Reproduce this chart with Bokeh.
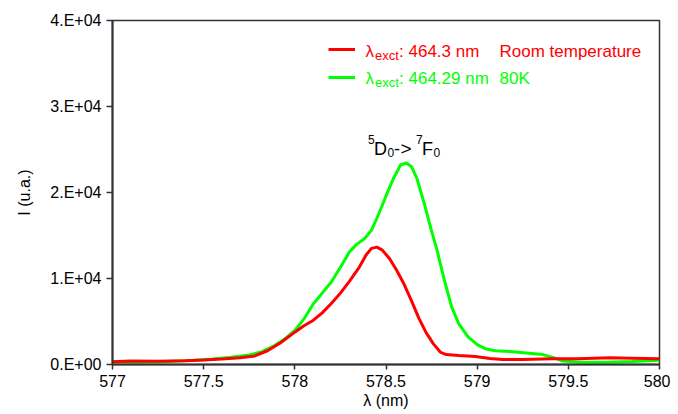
from bokeh.plotting import figure
from bokeh.models import FixedTicker, Label, Range1d, Legend, LegendItem
from bokeh.embed import file_html
from bokeh.resources import INLINE

# ---- data ----
wl_room = [577.00, 577.10, 577.25, 577.40, 577.50, 577.60, 577.70, 577.78, 577.85, 577.92,
           578.00, 578.05, 578.10, 578.15, 578.20, 578.25, 578.30, 578.35, 578.39, 578.42,
           578.45, 578.48, 578.52, 578.56, 578.60, 578.64, 578.68, 578.72, 578.76, 578.80,
           578.83, 578.90, 578.99, 579.07, 579.14, 579.25, 579.41, 579.55, 579.73, 579.85, 580.00]
int_room = [330, 400, 380, 430, 530, 650, 780, 1000, 1600, 2500,
            3760, 4500, 5120, 6000, 7100, 8300, 9700, 11200, 12700, 13500,
            13650, 13300, 12300, 10900, 9300, 7400, 5400, 3700, 2400, 1400,
            1150, 1050, 930, 700, 580, 580, 660, 660, 780, 740, 660]

wl_80k = [577.00, 577.15, 577.30, 577.45, 577.55, 577.65, 577.75, 577.82, 577.88, 577.94,
          578.00, 578.05, 578.10, 578.15, 578.20, 578.25, 578.30, 578.34, 578.38, 578.42,
          578.46, 578.50, 578.54, 578.58, 578.61, 578.64, 578.67, 578.71, 578.75, 578.78,
          578.82, 578.86, 578.90, 578.95, 579.00, 579.05, 579.10, 579.18, 579.27, 579.36,
          579.42, 579.47, 579.55, 579.70, 579.85, 580.00]
int_80k = [280, 270, 350, 500, 650, 850, 1100, 1500, 2100, 2900,
           3950, 5300, 7000, 8300, 9600, 11300, 13100, 14000, 14600, 15600,
           17500, 19600, 21600, 23200, 23450, 23000, 21600, 18700, 15500, 13300,
           9800, 6700, 4700, 3200, 2300, 1800, 1600, 1500, 1350, 1150,
           800, 400, 300, 250, 350, 480]

x_ticks = [577, 577.5, 578, 578.5, 579, 579.5, 580]
x_tick_labels = ["577", "577.5", "578", "578.5", "579", "579.5", "580"]
y_ticks = [0, 10000, 20000, 30000, 40000]
y_tick_labels = ["0.E+00", "1.E+04", "2.E+04", "3.E+04", "4.E+04"]

RED = "#FF0000"
GREEN = "#00FF00"
FONT = "Liberation Sans"

X0, X1, Y0, Y1 = 577, 580, 0, 40000
W, H = 670, 414
# frame in page pixels (for placing annotation text)
FL, FR, FT, FB = 112, 659, 20, 364


def px_x(px):
    return X0 + (px - FL) * (X1 - X0) / (FR - FL)


def px_y(py):
    return Y0 + (FB - py) * (Y1 - Y0) / (FB - FT)


p = figure(width=W, height=H, output_backend="svg", toolbar_location=None,
           x_range=Range1d(X0, X1), y_range=Range1d(Y0, Y1),
           min_border_left=FL, min_border_right=W - FR,
           min_border_top=FT, min_border_bottom=H - FB,
           background_fill_color="white", border_fill_color="white")

p.grid.visible = False
p.outline_line_color = "#333333"
p.outline_line_width = 1.5

for ax in (p.xaxis, p.yaxis):
    ax.axis_line_color = "#333333"
    ax.axis_line_width = 2
    ax.major_tick_line_color = "#333333"
    ax.major_tick_line_width = 1.5
    ax.major_tick_in = 0
    ax.minor_tick_line_color = None
    ax.major_label_text_font = FONT
    ax.major_label_text_font_size = "16px"
    ax.major_label_text_color = "black"
    ax.axis_label_text_font = FONT
    ax.axis_label_text_font_size = "16px"
    ax.axis_label_text_font_style = "normal"
    ax.axis_label_text_color = "black"

p.xaxis.ticker = FixedTicker(ticks=x_ticks)
p.xaxis.major_label_overrides = dict(zip(x_ticks, x_tick_labels))
p.xaxis.major_tick_out = 5
p.xaxis.major_label_standoff = 5
p.xaxis.axis_label = "λ (nm)"
p.xaxis.axis_label_standoff = 2

p.yaxis.ticker = FixedTicker(ticks=y_ticks)
p.yaxis.major_label_overrides = dict(zip(y_ticks, y_tick_labels))
p.yaxis.major_tick_out = 6
p.yaxis.major_label_standoff = 5
p.yaxis.axis_label = "I (u.a.)"
p.yaxis.axis_label_standoff = 14

g = p.line(wl_80k, int_80k, line_color=GREEN, line_width=3)
r = p.line(wl_room, int_room, line_color=RED, line_width=3)

# legend keys (text is drawn separately because of the subscripts)
legend = Legend(items=[LegendItem(label=" ", renderers=[r]),
                       LegendItem(label=" ", renderers=[g])],
                location=(328.3 - FL, FB - 88.5), orientation="vertical",
                glyph_width=27, glyph_height=24, label_height=24, label_width=1,
                spacing=4, padding=0, margin=0, label_standoff=0,
                border_line_color=None, background_fill_alpha=0,
                label_text_font_size="2px")
p.add_layout(legend, "center")


def piece(text, px, py, size, color):
    p.add_layout(Label(x=px_x(px), y=px_y(py), text=text, text_font=FONT,
                       text_font_size=size, text_color=color,
                       text_align="left", text_baseline="alphabetic"))


# legend text rows
for base, col, nm, cond in ((51.2, RED, "464.3 nm", "Room temperature"),
                            (78.0, GREEN, "464.29 nm", "80K")):
    piece("λ", 365, base, "17px", col)
    piece("exct", 374.5, base + 3.5, "13px", col)
    piece(":", 398.5, base, "17px", col)
    piece(nm, 408, base, "17px", col)
    piece(cond, 499, base, "17px", col)

# transition annotation 5D0->7F0
piece("5", 367.5, 138.5, "12px", "black")
piece("D", 373.5, 148.3, "18px", "black")
piece("0", 387, 151.7, "12px", "black")
piece("-", 393.5, 148.3, "18px", "black")
piece(">", 400, 148.3, "19px", "black")
piece("7", 415.5, 138.5, "12px", "black")
piece("F", 421.5, 148.3, "18px", "black")
piece("0", 433, 151.7, "12px", "black")

open("out.html", "w").write(file_html(p, INLINE))
